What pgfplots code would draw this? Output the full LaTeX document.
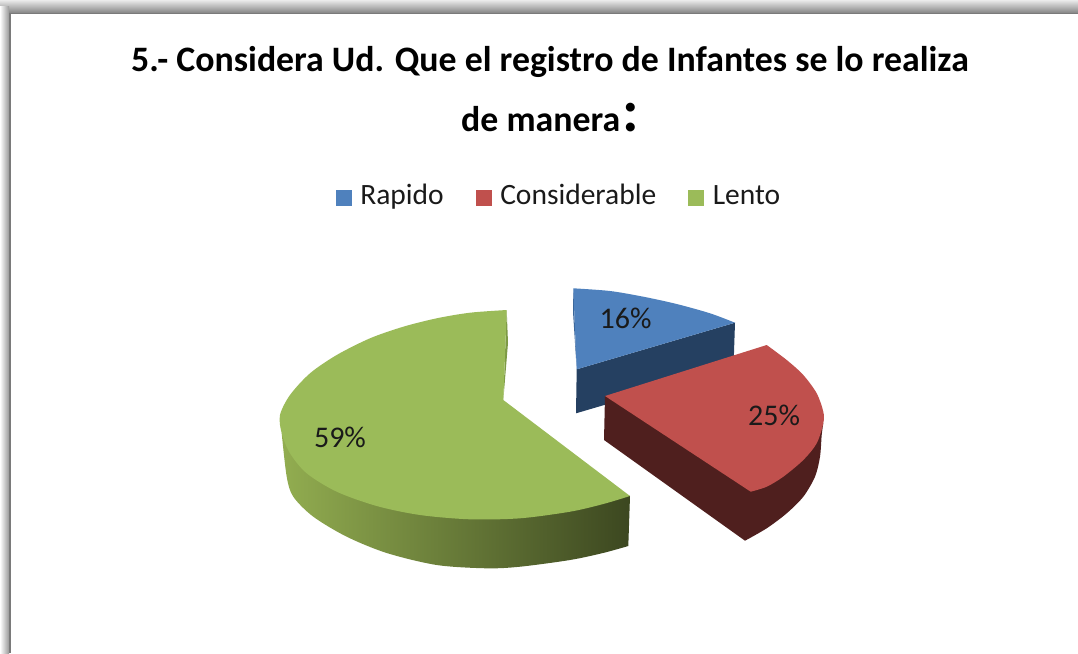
\documentclass[border=0pt]{standalone}
\usepackage{pgfplots}
\pgfplotsset{compat=1.18}
\usepackage{fontspec}
\setmainfont{Carlito}
\definecolor{bluetop}{HTML}{4F81BD}
\definecolor{blueside}{HTML}{254061}
\definecolor{blueedge}{HTML}{3B6699}
\definecolor{redtop}{HTML}{C0504D}
\definecolor{redside}{HTML}{4F1F1E}
\definecolor{greentop}{HTML}{9BBB59}
\definecolor{greenedge}{HTML}{7D9A45}
\definecolor{greenL}{HTML}{92AD50}
\definecolor{greenR}{HTML}{3C4720}
\definecolor{txt}{HTML}{1A1A1A}
\begin{document}
\begin{tikzpicture}
\begin{axis}[
  width=1078pt,height=653pt,scale only axis,
  hide axis,
  xmin=0,xmax=1078,ymin=0,ymax=653,y dir=reverse,
  legend columns=3,
  legend style={at={(axis cs:558,197.5)},anchor=center,draw=none,fill=none,
    font=\fontsize{29.5}{32}\selectfont\color{txt},inner sep=0pt,outer sep=0pt,
    /tikz/every even column/.style={column sep=32pt},
    nodes={inner sep=0pt,text height=20pt,text depth=6pt}},
  legend image code/.code={\fill[#1,draw=none] (0pt,-8pt) rectangle (16pt,8pt);\path (24.5pt,0pt);},
  legend cell align=left,
]
% frame shadow
\path[top color=black!8,bottom color=black!48] (axis cs:0,0) rectangle (axis cs:1078,13);
\path[left color=white,right color=black!40] (axis cs:0,6) rectangle (axis cs:9,653);
\draw[black!52,line width=1.8pt] (axis cs:10,653) -- (axis cs:10,13.5) -- (axis cs:1078,13.5);

% Rapido
\addplot[forget plot,fill=blueside,draw=none] coordinates {
 (735,322.7)(576.7,369.3)(576,413.3)(733.5,367)} --cycle;
\addplot[forget plot,fill=blueedge,draw=none] coordinates {
 (573.3,288.3)(573,312)(576.7,369.3)} --cycle;
\addplot[smooth,fill=bluetop,draw=none] coordinates {
 (573.3,288.3)(610,291)(643.3,296.7)(676.7,304)(710,313.3)(735,322.7)} -- (axis cs:576.7,369.3) --cycle;
\addlegendentry{Rapido}

% Considerable
\addplot[forget plot,smooth,fill=redside,draw=none] coordinates {
 (745,540.7)(766.7,528.3)(786.7,513.3)(803.3,496.7)(815,476.7)(820,456.7)(821.7,435)(823.3,423.3)} -- (axis cs:605,396) -- (axis cs:604,440) --cycle;
\addplot[smooth,fill=redtop,draw=none] coordinates {
 (766.7,345)(786.7,360)(803.3,375)(816.7,393.3)(823.3,411.7)(823.3,423.3)(816.7,443.3)(803.3,460)(783.3,476.7)(766.7,486.7)(750.7,491.7)} -- (axis cs:605,396) --cycle;
\addlegendentry{Considerable}

% Lento
\addplot[forget plot,smooth,left color=greenL,right color=greenR,draw=none] coordinates {
 (628.3,546)(603,553)(570,560)(520,566.7)(486.7,568.3)(436.7,565)(386.7,553)(346.7,536.7)(313.3,516.7)(293.3,496.7)(286.7,476.7)(281.7,433.3)} -- (axis cs:630,496) --cycle;
\addplot[forget plot,fill=greenedge,draw=none] coordinates {
 (506.7,310)(508,343)(503.3,400)} --cycle;
\addplot[smooth,fill=greentop,draw=none] coordinates {
 (506.7,310)(470,312.7)(436.7,318.3)(403.3,326.7)(370,338.3)(336.7,355)(310,373.3)(290,395)(280,415)(281.7,433.3)(290,453.3)(306.7,473.3)(336.7,491.7)(376.7,506)(420,515)(470,519.3)(520,518.3)(570,511.7)(603.3,504)(630,496)} -- (axis cs:503.3,400) --cycle;
\addlegendentry{Lento}

\node[font=\fontsize{30}{32}\selectfont,text=txt,anchor=center] at (axis cs:625.5,318) {16\%};
\node[font=\fontsize{30}{32}\selectfont,text=txt,anchor=center] at (axis cs:774,415) {25\%};
\node[font=\fontsize{30}{32}\selectfont,text=txt,anchor=center] at (axis cs:340,437) {59\%};

\node[font=\fontsize{35.8}{40}\selectfont\bfseries,anchor=base,inner sep=0pt] at (axis cs:550,71) {5.- Considera Ud. Que el registro de Infantes se lo realiza};
\node[font=\fontsize{35.8}{40}\selectfont\bfseries,anchor=base,inner sep=0pt] at (axis cs:550,131) {de manera\kern2pt{\fontsize{60}{60}\selectfont:}};
\end{axis}
\end{tikzpicture}
\end{document}
